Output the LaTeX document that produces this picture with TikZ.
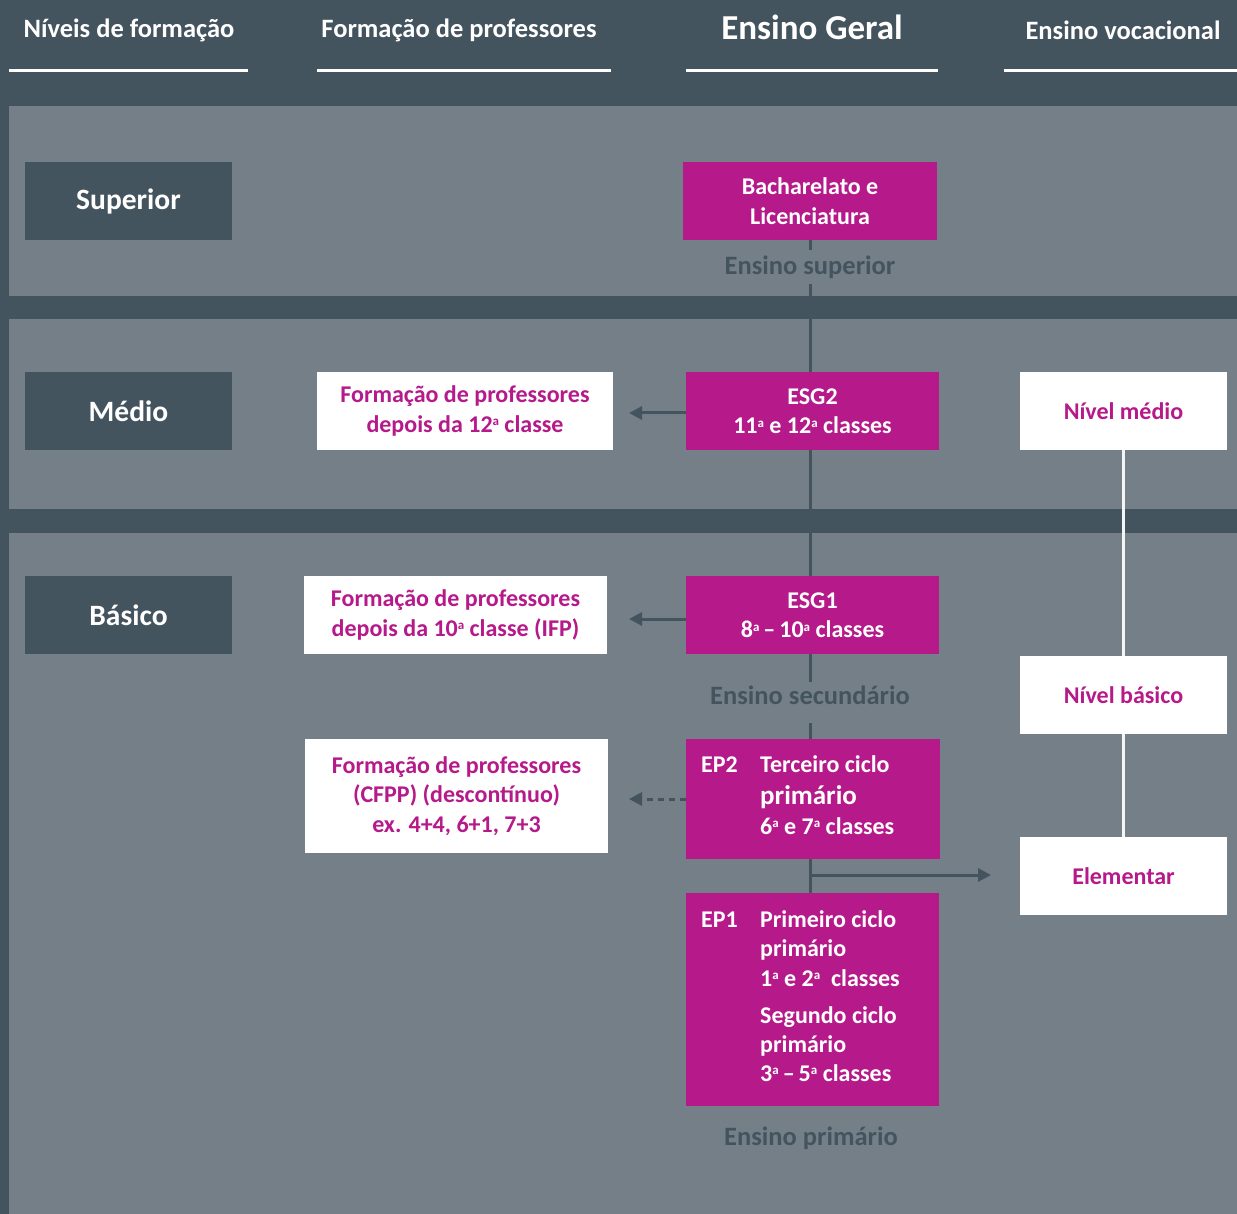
\documentclass[tikz,border=0pt]{standalone}
\usepackage{fontspec}
\setmainfont{Carlito}
\usetikzlibrary{arrows.meta}
\definecolor{darkbg}{HTML}{44545F}
\definecolor{panel}{HTML}{757F88}
\definecolor{mag}{HTML}{B5198A}
\newcommand{\ordsup}[1]{\raisebox{0.55ex}{\fontsize{13}{13}\selectfont #1}}
\tikzset{
  hdr/.style={text=white, inner sep=0pt, font=\fontsize{26.5}{30}\selectfont\bfseries},
  hline/.style={draw=white, line width=3pt},
  levelbox/.style={fill=darkbg, text=white, minimum width=207pt, minimum height=78pt, inner sep=0pt, font=\fontsize{29.5}{32}\selectfont\bfseries},
  magbox/.style={fill=mag, text=white, inner sep=0pt, align=center, font=\fontsize{24}{29.5}\selectfont\bfseries},
  whitebox/.style={fill=white, text=mag, inner sep=0pt, align=center, font=\fontsize{24}{29.5}\selectfont\bfseries},
  inl/.style={text=white, inner sep=0pt, anchor=base west, font=\fontsize{24}{30}\selectfont\bfseries},
  lbl/.style={text=darkbg, inner sep=0pt, font=\fontsize{26.5}{30}\selectfont\bfseries},
  vline/.style={draw=darkbg, line width=3pt},
  arr/.style={draw=darkbg, line width=3pt, -{Triangle[length=13pt,width=13pt]}},
  wline/.style={draw=white!92!gray, line width=2.5pt}
}
\begin{document}
\begin{tikzpicture}[x=1pt, y=-1pt]
\path[use as bounding box] (0,0) rectangle (1237,1214);
\fill[darkbg] (0,0) rectangle (1237,1214);
\fill[panel] (9,106) rectangle (1237,296);
\fill[panel] (9,319) rectangle (1237,509);
\fill[panel] (9,533) rectangle (1237,1214);

% headers
\node[hdr] (h1) at (129,30) {Níveis de formação};
\node[hdr] (h2) at (459,30) {Formação de professores};
\node[hdr, font=\fontsize{35}{38}\selectfont\bfseries] (h3) at (812,27.5) {Ensino Geral};
\node[hdr] (h4) at (1123,30) {Ensino vocacional};
\draw[hline] (9,71) -- (248,71);
\draw[hline] (317,71) -- (611,71);
\draw[hline] (686,71) -- (938,71);
\draw[hline] (1004,71) -- (1237,71);

% level boxes
\node[levelbox] (sup) at (128.5,201) {Superior};
\node[levelbox] (med) at (128.5,411) {Médio};
\node[levelbox] (bas) at (128.5,615) {Básico};

% general education boxes
\node[magbox, minimum width=254pt, minimum height=78pt] (bach) at (810,201) {Bacharelato e\\Licenciatura};
\node[magbox, minimum width=253pt, minimum height=78pt] (esg2) at (812.5,411) {ESG2\\11\ordsup{a} e 12\ordsup{a} classes};
\node[magbox, minimum width=253pt, minimum height=78pt] (esg1) at (812.5,615) {ESG1\\8\ordsup{a}\,--\,10\ordsup{a} classes};
\node[magbox, minimum width=254pt, minimum height=120pt] (ep2) at (813,799) {};
\node[magbox, minimum width=253pt, minimum height=213pt] (ep1) at (812.5,999.5) {};

\node[inl] (ep2l) at (701,772) {EP2};
\node[inl] (ep2a) at (760,772) {Terceiro ciclo};
\node[inl, font=\fontsize{27}{30}\selectfont\bfseries] (ep2b) at (760,804) {primário};
\node[inl] (ep2c) at (760,834) {6\ordsup{a} e 7\ordsup{a} classes};

\node[inl] (ep1l) at (701,927) {EP1};
\node[inl] (ep1a) at (760,927) {Primeiro ciclo};
\node[inl] (ep1b) at (760,956) {primário};
\node[inl] (ep1c) at (760,986) {1\ordsup{a} e 2\ordsup{a}\ \ classes};
\node[inl] (ep1d) at (760,1023) {Segundo ciclo};
\node[inl] (ep1e) at (760,1052) {primário};
\node[inl] (ep1f) at (760,1081) {3\ordsup{a}\,--\,5\ordsup{a} classes};

% stage labels
\node[lbl, minimum height=33pt] (lsup) at (810,267) {Ensino superior};
\node[lbl, minimum height=26pt] (lsec) at (810,695) {Ensino secundário};
\node[lbl] (lpri) at (811,1138.5) {Ensino primário};

% teacher training boxes
\node[whitebox, minimum width=296pt, minimum height=78pt] (tf12) at (465,411) {Formação de professores\\depois da 12\ordsup{a} classe};
\node[whitebox, minimum width=303pt, minimum height=78pt] (tf10) at (455.5,615) {Formação de professores\\depois da 10\ordsup{a} classe (IFP)};
\node[whitebox, minimum width=303pt, minimum height=114pt] (tfcf) at (456.5,796) {Formação de professores\\(CFPP) (descontínuo)\\ex. 4+4, 6+1, 7+3};

% vocational boxes
\node[whitebox, minimum width=207pt, minimum height=78pt] (nmed) at (1123.5,411) {Nível médio};
\node[whitebox, minimum width=207pt, minimum height=78pt] (nbas) at (1123.5,695) {Nível básico};
\node[whitebox, minimum width=207pt, minimum height=78pt] (elem) at (1123.5,876) {Elementar};

% main vertical line
\draw[vline] (bach.south) -- (lsup.north);
\draw[vline] (lsup.south) -- (lsup.south |- esg2.north);
\draw[vline] (lsup.south |- esg2.south) -- (lsup.south |- esg1.north);
\draw[vline] (lsup.south |- esg1.south) -- (lsec.north);
\draw[vline] (lsec.south) ++(0,15) -- (lsec.south |- ep2.north);
\draw[vline] (lsec.south |- ep2.south) -- (lsec.south |- ep1.north);

% arrows
\coordinate (a1) at (629,413);
\coordinate (a2) at (629,619);
\coordinate (a3) at (629,799);
\coordinate (rt) at (991,875);
\draw[arr] (esg2.west |- a1) -- (a1);
\draw[arr] (esg1.west |- a2) -- (a2);
\draw[arr, dash pattern=on 6pt off 5pt] (ep2.west |- a3) -- (a3);
\draw[arr] (lsec.south |- rt) -- (rt);

% vocational connector
\draw[wline] (nmed.south) -- (nbas.north);
\draw[wline] (nbas.south) -- (elem.north);
\end{tikzpicture}
\end{document}
